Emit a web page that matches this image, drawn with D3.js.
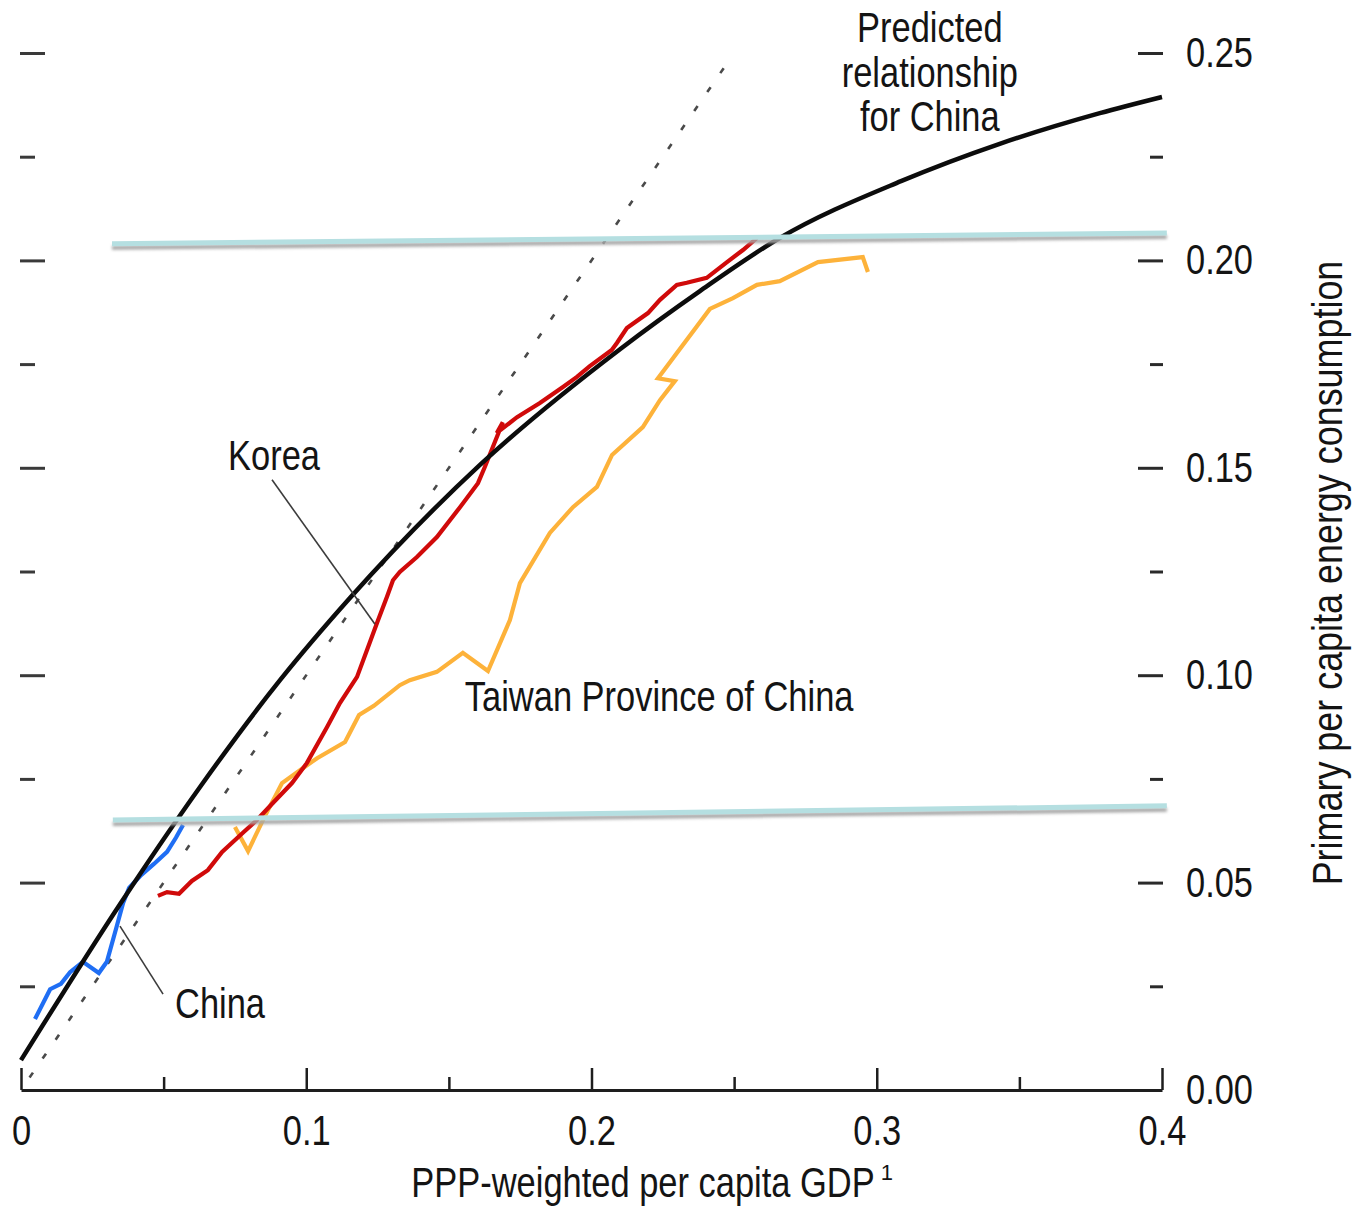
<!DOCTYPE html>
<html>
<head>
<meta charset="utf-8">
<script src="https://cdn.jsdelivr.net/npm/d3@7"></script>
<style>
  html, body { margin: 0; padding: 0; background: #ffffff; }
  svg { display: block; }
  text { font-family: "Liberation Sans", Arial, sans-serif; fill: #141414; }
</style>
</head>
<body>
<svg id="chart" width="1353" height="1207"></svg>
<script>
// Axis ticks and labels
const xTicksMajor = [0, 0.1, 0.2, 0.3, 0.4];
const xTickLabels = ["0", "0.1", "0.2", "0.3", "0.4"];
const xTicksMinor = [0.05, 0.15, 0.25, 0.35];
const yTicksMajor = [0, 0.05, 0.10, 0.15, 0.20, 0.25];
const yTickLabels = ["0.00", "0.05", "0.10", "0.15", "0.20", "0.25"];
const yTicksMinor = [0.025, 0.075, 0.125, 0.175, 0.225];

// Predicted energy path for China: [per capita GDP, per capita energy]
const predicted = [
  [0.0000, 0.0072], [0.0347, 0.0448], [0.0627, 0.0730], [0.0908, 0.0988],
  [0.1153, 0.1186], [0.1609, 0.1507], [0.2100, 0.1786], [0.2380, 0.1926],
  [0.2660, 0.2054], [0.3085, 0.2191], [0.3431, 0.2281], [0.3782, 0.2355],
  [0.4000, 0.2394]
];

// 45-degree reference line (energy equal to GDP)
const parity = [[0.003, 0.003], [0.248, 0.248]];

// Historical paths
const china = [
  [0.0049, 0.0171], [0.0102, 0.0243], [0.0140, 0.0256], [0.0172, 0.0284],
  [0.0217, 0.0309], [0.0273, 0.0282], [0.0301, 0.0309], [0.0333, 0.0388],
  [0.0358, 0.0451], [0.0379, 0.0487], [0.0421, 0.0518], [0.0466, 0.0545],
  [0.0512, 0.0574], [0.0543, 0.0608], [0.0568, 0.0639]
];

const korea = [
  [0.0480, 0.0468], [0.0512, 0.0477], [0.0554, 0.0473], [0.0599, 0.0504],
  [0.0655, 0.0530], [0.0705, 0.0574], [0.0778, 0.0620], [0.0827, 0.0651],
  [0.0883, 0.0692], [0.0950, 0.0740], [0.1002, 0.0788], [0.1073, 0.0875],
  [0.1118, 0.0933], [0.1178, 0.0996], [0.1213, 0.1061], [0.1248, 0.1126],
  [0.1283, 0.1189], [0.1304, 0.1229], [0.1328, 0.1249], [0.1388, 0.1285],
  [0.1458, 0.1333], [0.1539, 0.1405], [0.1602, 0.1463], [0.1626, 0.1502],
  [0.1689, 0.1610], [0.1668, 0.1584], [0.1739, 0.1622], [0.1819, 0.1656],
  [0.1900, 0.1695], [0.1949, 0.1719], [0.1994, 0.1745], [0.2071, 0.1784],
  [0.2089, 0.1801], [0.2124, 0.1837], [0.2198, 0.1873], [0.2240, 0.1905],
  [0.2299, 0.1941], [0.2334, 0.1946], [0.2404, 0.1958], [0.2475, 0.1996],
  [0.2531, 0.2025], [0.2580, 0.2054]
];

const taiwan = [
  [0.0750, 0.0634], [0.0796, 0.0576], [0.0852, 0.0656], [0.0915, 0.0740],
  [0.0978, 0.0771], [0.1038, 0.0800], [0.1136, 0.0839], [0.1185, 0.0904],
  [0.1237, 0.0926], [0.1328, 0.0976], [0.1363, 0.0988], [0.1458, 0.1008],
  [0.1549, 0.1054], [0.1637, 0.1010], [0.1714, 0.1133], [0.1749, 0.1222],
  [0.1854, 0.1343], [0.1935, 0.1405], [0.2019, 0.1454], [0.2072, 0.1531],
  [0.2180, 0.1598], [0.2240, 0.1663], [0.2292, 0.1709], [0.2233, 0.1716],
  [0.2415, 0.1883], [0.2496, 0.1909], [0.2580, 0.1941], [0.2660, 0.1950],
  [0.2794, 0.1996], [0.2951, 0.2008], [0.2969, 0.1972]
];

// Energy thresholds shown as horizontal bands
const upperBand = [[0.0319, 0.2040], [0.4017, 0.2066]];
const lowerBand = [[0.0322, 0.0651], [0.4017, 0.0685]];

const svg = d3.select("#chart");
const x = d3.scaleLinear().domain([0, 0.4]).range([21, 1162]);
const y = d3.scaleLinear().domain([0, 0.25]).range([1090, 53]);
const FS = 42;

const defs = svg.append("defs");
defs.append("filter").attr("id", "soft").attr("x", "-5%").attr("y", "-200%")
  .attr("width", "110%").attr("height", "500%")
  .append("feGaussianBlur").attr("stdDeviation", 1.4);

const line = d3.line().x(d => x(d[0])).y(d => y(d[1]));
const smooth = d3.line().x(d => x(d[0])).y(d => y(d[1])).curve(d3.curveMonotoneX);

// narrow-face lettering: compress a text run horizontally
function condense(sel, k) {
  sel.each(function () {
    const len = this.getComputedTextLength();
    d3.select(this).attr("textLength", (len * (k || 0.82)).toFixed(1))
      .attr("lengthAdjust", "spacingAndGlyphs");
  });
}

// ---- Axes ----
// bottom axis: baseline with upward ticks
const gxMaj = svg.append("g").attr("transform", `translate(0,${y(0)})`)
  .call(d3.axisTop(x).tickValues(xTicksMajor).tickSize(22).tickSizeOuter(0).tickFormat(""));
gxMaj.select(".domain").attr("stroke", "#1e1e1e").attr("stroke-width", 3);
gxMaj.selectAll(".tick line").attr("stroke", "#1e1e1e").attr("stroke-width", 2.5);

const gxMin = svg.append("g").attr("transform", `translate(0,${y(0)})`)
  .call(d3.axisTop(x).tickValues(xTicksMinor).tickSize(13).tickFormat(""));
gxMin.select(".domain").remove();
gxMin.selectAll(".tick line").attr("stroke", "#1e1e1e").attr("stroke-width", 2.5);

const gxLab = svg.append("g").attr("transform", `translate(0,${y(0)})`)
  .call(d3.axisBottom(x).tickValues(xTicksMajor).tickSize(0).tickPadding(25)
    .tickFormat((d, i) => xTickLabels[i]));
gxLab.select(".domain").remove();
gxLab.selectAll("text").attr("font-size", FS).attr("font-family", null).attr("fill", "#141414");

// left side ticks (no labels)
const gyLMaj = svg.append("g").attr("transform", `translate(20,0)`)
  .call(d3.axisRight(y).tickValues(yTicksMajor.filter(v => v > 0)).tickSize(25).tickFormat(""));
gyLMaj.select(".domain").remove();
gyLMaj.selectAll(".tick line").attr("stroke", "#3a3a3a").attr("stroke-width", 3);

const gyLMin = svg.append("g").attr("transform", `translate(20,0)`)
  .call(d3.axisRight(y).tickValues(yTicksMinor).tickSize(15).tickFormat(""));
gyLMin.select(".domain").remove();
gyLMin.selectAll(".tick line").attr("stroke", "#3a3a3a").attr("stroke-width", 3);

// right side ticks with labels
const gyRMaj = svg.append("g").attr("transform", `translate(1138,0)`)
  .call(d3.axisRight(y).tickValues(yTicksMajor).tickSize(25).tickPadding(23)
    .tickFormat((d, i) => yTickLabels[i]));
gyRMaj.select(".domain").remove();
gyRMaj.selectAll(".tick line").attr("stroke", "#2a2a2a").attr("stroke-width", 3)
  .filter(d => d === 0).remove();
gyRMaj.selectAll("text").attr("font-size", FS).attr("font-family", null).attr("fill", "#141414");

const gyRMin = svg.append("g").attr("transform", `translate(1150,0)`)
  .call(d3.axisRight(y).tickValues(yTicksMinor).tickSize(13).tickFormat(""));
gyRMin.select(".domain").remove();
gyRMin.selectAll(".tick line").attr("stroke", "#2a2a2a").attr("stroke-width", 3);

condense(svg.selectAll(".tick text"));

// ---- Reference lines ----
svg.append("path").datum(parity).attr("d", line)
  .attr("fill", "none").attr("stroke", "#4a4a4a").attr("stroke-width", 2.6)
  .attr("stroke-dasharray", "6 17");

// ---- Series ----
svg.append("path").datum(taiwan).attr("d", line)
  .attr("fill", "none").attr("stroke", "#fdb23a").attr("stroke-width", 4.2)
  .attr("stroke-linejoin", "miter");
svg.append("path").datum(korea).attr("d", line)
  .attr("fill", "none").attr("stroke", "#d00a0a").attr("stroke-width", 4.2);
svg.append("path").datum(china).attr("d", line)
  .attr("fill", "none").attr("stroke", "#1f6ef4").attr("stroke-width", 4.2);

svg.append("path").datum(predicted).attr("d", smooth)
  .attr("fill", "none").attr("stroke", "#0c0c0c").attr("stroke-width", 4.5);

// ---- Threshold bands with drop shadow ----
[upperBand, lowerBand].forEach(b => {
  svg.append("path").datum(b).attr("d", line)
    .attr("transform", "translate(0,4)")
    .attr("fill", "none").attr("stroke", "#a6a6a6").attr("stroke-width", 4)
    .attr("filter", "url(#soft)");
  svg.append("path").datum(b).attr("d", line)
    .attr("fill", "none").attr("stroke", "#b5dfe1").attr("stroke-width", 5);
});

// ---- Annotations ----
const leader = (a, b) => svg.append("line")
  .attr("x1", x(a[0])).attr("y1", y(a[1])).attr("x2", x(b[0])).attr("y2", y(b[1]))
  .attr("stroke", "#3c3c3c").attr("stroke-width", 1.6);

leader([0.0880, 0.1471], [0.1241, 0.1123]);
leader([0.0498, 0.0231], [0.0347, 0.0395]);

const label = (txt, px, py, anchor) => {
  const t = svg.append("text")
    .attr("x", x(px)).attr("y", y(py)).attr("font-size", FS)
    .attr("text-anchor", anchor || "start").text(txt);
  condense(t);
  return t;
};

label("Korea", 0.0726, 0.1495);
label("China", 0.0540, 0.0174);
label("Taiwan Province of China", 0.1556, 0.0914);
label("Predicted", 0.3186, 0.2526, "middle");
label("relationship", 0.3186, 0.2418, "middle");
label("for China", 0.3186, 0.2312, "middle");

// axis titles
const xt = svg.append("text").attr("x", 643).attr("y", 1197)
  .attr("font-size", FS).attr("text-anchor", "middle")
  .text("PPP-weighted per capita GDP");
condense(xt);
const xtBox = xt.node().getBBox();
svg.append("text").attr("x", xtBox.x + xtBox.width + 6).attr("y", 1180)
  .attr("font-size", 22).text("1");

const yt = svg.append("text").attr("transform", "translate(1342,573) rotate(-90)")
  .attr("font-size", FS).attr("text-anchor", "middle")
  .text("Primary per capita energy consumption");
condense(yt, 0.855);
</script>
</body>
</html>
